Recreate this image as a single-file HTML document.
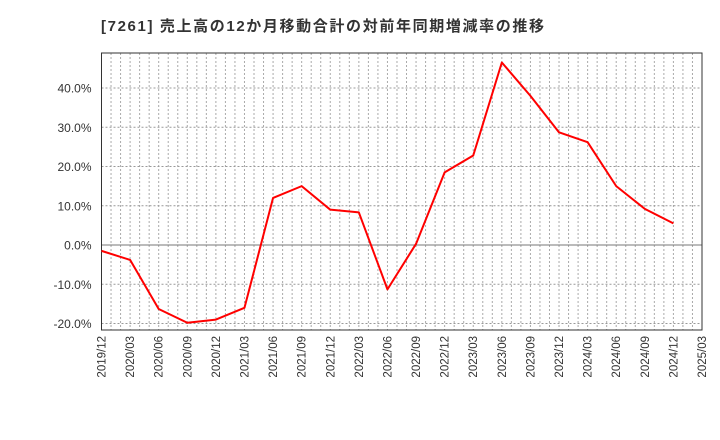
<!DOCTYPE html>
<html><head><meta charset="utf-8"><style>
html,body{margin:0;padding:0;background:#fff;}
svg{display:block;font-family:"Liberation Sans","Noto Sans CJK JP",sans-serif;}
</style></head><body>
<svg id="chart" width="720" height="440">
<text x="101" y="31" font-size="15" font-weight="bold" fill="#333" textLength="443" lengthAdjust="spacing">[7261]  売上高の12か月移動合計の対前年同期増減率の推移</text>
<g id="grid"></g><g id="axes"></g><g id="series"></g>
</svg>
<script>
const categories=["2019/12","2020/03","2020/06","2020/09","2020/12","2021/03","2021/06","2021/09","2021/12","2022/03","2022/06","2022/09","2022/12","2023/03","2023/06","2023/09","2023/12","2024/03","2024/06","2024/09","2024/12","2025/03"];
const values=[-1.5,-3.8,-16.3,-19.8,-19.0,-16.0,12.0,15.0,9.0,8.3,-11.3,0.3,18.5,22.8,46.5,38.0,28.7,26.2,15.0,9.2,5.5];
const yTicks=[-20,-10,0,10,20,30,40];
const NS="http://www.w3.org/2000/svg";
const L=101.5,R=702,T=53,B=330;
const x=i=>L+(R-L)*i/(categories.length-1);
const y=v=>245-v*3.925;
function mk(tag,attrs,parent){const e=document.createElementNS(NS,tag);for(const k in attrs)e.setAttribute(k,attrs[k]);document.getElementById(parent).appendChild(e);return e;}
for(let m=1;m<(categories.length-1)*3;m++){
  const xx=L+(R-L)*m/((categories.length-1)*3);
  const g=mk("line",{x1:xx,x2:xx,y1:T,y2:B,stroke:"#aaa","stroke-width":1,"stroke-dasharray":"2,2"},"grid");
  
  
}
yTicks.forEach(v=>{
  const g=mk("line",{x1:L,x2:R,y1:y(v),y2:y(v),stroke:v===0?"#777":"#999","stroke-width":1,"stroke-dasharray":v===0?"none":"2,2"},"grid");
  
  
  const t=mk("text",{x:L-10,y:y(v)+4.5,"text-anchor":"end","font-size":12,fill:"#333"},"axes");
  t.textContent=v.toFixed(1)+"%";
  
  
});
const frame=mk("rect",{x:L,y:T,width:R-L,height:B-T,fill:"none",stroke:"#333","stroke-width":1},"axes");


categories.forEach((c,i)=>{
  const t=mk("text",{transform:`translate(${x(i)+4},${B+6}) rotate(-90)`,"text-anchor":"end","font-size":11.5,fill:"#333"},"axes");
  t.textContent=c;
  
  
});
const p=mk("polyline",{points:values.map((v,i)=>x(i)+","+y(v)).join(" "),fill:"none",stroke:"#f00","stroke-width":2,"stroke-linejoin":"round"},"series");


</script>
</body></html>
